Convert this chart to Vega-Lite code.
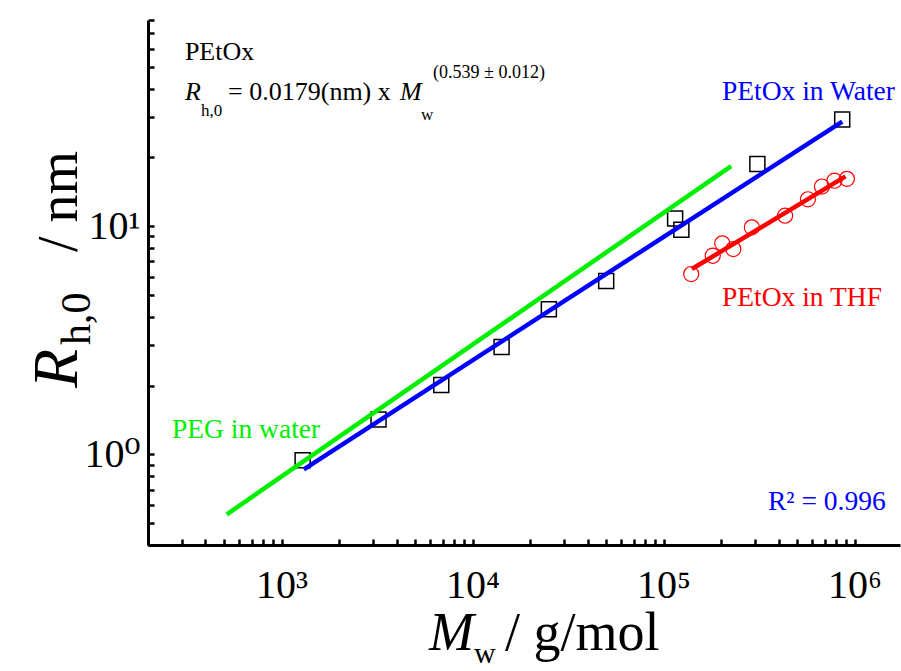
{
  "$schema": "https://vega.github.io/schema/vega-lite/v6.json",
  "width": 752,
  "height": 525,
  "autosize": "none",
  "padding": {"left": 148, "top": 20, "right": 1, "bottom": 126},
  "background": "white",
  "config": {"view": {"stroke": null}, "font": "Liberation Serif, Times New Roman, DejaVu Serif, serif"},
  "datasets": {
    "water": [
      {"Mw": 1290, "Rh": 0.94},
      {"Mw": 3220, "Rh": 1.42},
      {"Mw": 6860, "Rh": 2.01},
      {"Mw": 14200, "Rh": 2.95},
      {"Mw": 25100, "Rh": 4.32},
      {"Mw": 50100, "Rh": 5.75},
      {"Mw": 115000, "Rh": 10.8},
      {"Mw": 124000, "Rh": 9.63},
      {"Mw": 310000, "Rh": 18.7},
      {"Mw": 862000, "Rh": 29.3}
    ],
    "thf": [
      {"Mw": 139600, "Rh": 6.16},
      {"Mw": 181000, "Rh": 7.41},
      {"Mw": 203000, "Rh": 8.4},
      {"Mw": 232000, "Rh": 7.93},
      {"Mw": 290000, "Rh": 9.87},
      {"Mw": 433000, "Rh": 11.1},
      {"Mw": 570000, "Rh": 13.1},
      {"Mw": 675000, "Rh": 14.9},
      {"Mw": 785000, "Rh": 15.8},
      {"Mw": 912000, "Rh": 16.1}
    ],
    "fits": [
      {"series": "PEG in water", "Mw": 517, "Rh": 0.545},
      {"series": "PEG in water", "Mw": 226000, "Rh": 18.3},
      {"series": "PEtOx in Water", "Mw": 1309, "Rh": 0.859},
      {"series": "PEtOx in Water", "Mw": 862000, "Rh": 28.7},
      {"series": "PEtOx in THF", "Mw": 140700, "Rh": 6.48},
      {"series": "PEtOx in THF", "Mw": 897000, "Rh": 16.5}
    ],
    "ann": [
      {"role": "series", "text": "PEtOx in Water", "Mw": 202400, "Rh": 35.7, "series": "PEtOx in Water"},
      {"role": "series", "text": "PEtOx in THF", "Mw": 202400, "Rh": 4.46, "series": "PEtOx in THF"},
      {"role": "series", "text": "PEG in water", "Mw": 267, "Rh": 1.178, "series": "PEG in water"},
      {"role": "series", "text": "R² = 0.996", "Mw": 352400, "Rh": 0.57, "series": "PEtOx in Water"},
      {"role": "note", "text": "PEtOx", "Mw": 312, "Rh": 53.4},
      {"role": "note", "text": "= 0.0179(nm) x", "Mw": 525, "Rh": 35.7},
      {"role": "noteItalic", "text": "R", "Mw": 312, "Rh": 35.7},
      {"role": "noteItalic", "text": "M", "Mw": 4172, "Rh": 35.7},
      {"role": "noteSmall", "text": "h,0", "Mw": 379, "Rh": 30.4},
      {"role": "noteSmall", "text": "w", "Mw": 5376, "Rh": 29.2},
      {"role": "noteSup", "text": "(0.539 ± 0.012)", "Mw": 6212, "Rh": 44.5},
      {"role": "xItalic", "text": "M", "Mw": 5920, "Rh": 0.1387},
      {"role": "xSub", "text": "w", "Mw": 10180, "Rh": 0.1217},
      {"role": "xMain", "text": "/ g/mol", "Mw": 14790, "Rh": 0.1387},
      {"role": "yItalic", "text": "R", "Mw": 85, "Rh": 1.952},
      {"role": "ySub", "text": "h,0", "Mw": 99.4, "Rh": 3.01},
      {"role": "yMain", "text": "/ nm", "Mw": 85, "Rh": 7.7}
    ]
  },
  "layer": [
    {
      "data": {"name": "water"},
      "mark": {"type": "point", "shape": "square", "filled": false, "color": "black", "size": 225, "strokeWidth": 1.5, "opacity": 1},
      "encoding": {
        "x": {
          "field": "Mw", "type": "quantitative",
          "scale": {"type": "log", "domain": [200, 1730000], "nice": false},
          "axis": {
            "title": null,
            "grid": false,
            "ticks": true,
            "values": [200, 300, 400, 500, 600, 700, 800, 900, 1000, 2000, 3000, 4000, 5000, 6000, 7000, 8000, 9000, 10000, 20000, 30000, 40000, 50000, 60000, 70000, 80000, 90000, 100000, 200000, 300000, 400000, 500000, 600000, 700000, 800000, 900000, 1000000],
            "labelExpr": "datum.value == 1000 ? '10³' : datum.value == 10000 ? '10⁴' : datum.value == 100000 ? '10⁵' : datum.value == 1000000 ? '10⁶' : ''",
            "labelOverlap": false,
            "labelFontSize": 40,
            "labelColor": "black",
            "labelPadding": 26,
            "domainColor": "black",
            "domainWidth": 3,
            "tickColor": "black",
            "tickWidth": 2.5,
            "tickSize": -6
          }
        },
        "y": {
          "field": "Rh", "type": "quantitative",
          "scale": {"type": "log", "domain": [0.4, 80], "nice": false},
          "axis": {
            "title": null,
            "grid": false,
            "ticks": true,
            "values": [0.4, 0.5, 0.6, 0.7, 0.8, 0.9, 1, 2, 3, 4, 5, 6, 7, 8, 9, 10, 20, 30, 40, 50, 60, 70, 80],
            "labelExpr": "datum.value == 1 ? '10⁰' : datum.value == 10 ? '10¹' : ''",
            "labelOverlap": false,
            "labelFontSize": 40,
            "labelColor": "black",
            "labelPadding": 14,
            "domainColor": "black",
            "domainWidth": 3,
            "tickColor": "black",
            "tickWidth": 2.5,
            "tickSize": -6
          }
        }
      }
    },
    {
      "data": {"name": "thf"},
      "mark": {"type": "point", "shape": "circle", "filled": false, "color": "#ff0000", "size": 227, "strokeWidth": 1.2, "opacity": 1},
      "encoding": {
        "x": {"field": "Mw", "type": "quantitative"},
        "y": {"field": "Rh", "type": "quantitative"}
      }
    },
    {
      "data": {"name": "fits"},
      "mark": {"type": "line", "strokeWidth": 4.5},
      "encoding": {
        "x": {"field": "Mw", "type": "quantitative"},
        "y": {"field": "Rh", "type": "quantitative"},
        "color": {
          "field": "series", "type": "nominal",
          "scale": {"domain": ["PEtOx in Water", "PEtOx in THF", "PEG in water"], "range": ["#0000ff", "#ff0000", "#00ee00"]},
          "legend": null
        }
      }
    },
    {
      "mark": {"type": "rule", "color": "black", "strokeWidth": 3},
      "encoding": {"y": {"datum": 80, "type": "quantitative"}}
    },
    {
      "data": {"name": "ann"},
      "transform": [{"filter": "datum.role == 'series'"}],
      "mark": {"type": "text", "align": "left", "baseline": "alphabetic", "fontSize": 27.5},
      "encoding": {
        "x": {"field": "Mw", "type": "quantitative"},
        "y": {"field": "Rh", "type": "quantitative"},
        "text": {"field": "text"},
        "color": {"field": "series", "type": "nominal", "legend": null}
      }
    },
    {
      "data": {"name": "ann"},
      "transform": [{"filter": "datum.role == 'note'"}],
      "mark": {"type": "text", "align": "left", "baseline": "alphabetic", "fontSize": 26, "color": "black"},
      "encoding": {
        "x": {"field": "Mw", "type": "quantitative"},
        "y": {"field": "Rh", "type": "quantitative"},
        "text": {"field": "text"}
      }
    },
    {
      "data": {"name": "ann"},
      "transform": [{"filter": "datum.role == 'noteItalic'"}],
      "mark": {"type": "text", "align": "left", "baseline": "alphabetic", "fontStyle": "italic", "fontSize": 26, "color": "black"},
      "encoding": {
        "x": {"field": "Mw", "type": "quantitative"},
        "y": {"field": "Rh", "type": "quantitative"},
        "text": {"field": "text"}
      }
    },
    {
      "data": {"name": "ann"},
      "transform": [{"filter": "datum.role == 'noteSmall'"}],
      "mark": {"type": "text", "align": "left", "baseline": "alphabetic", "fontSize": 17, "color": "black"},
      "encoding": {
        "x": {"field": "Mw", "type": "quantitative"},
        "y": {"field": "Rh", "type": "quantitative"},
        "text": {"field": "text"}
      }
    },
    {
      "data": {"name": "ann"},
      "transform": [{"filter": "datum.role == 'noteSup'"}],
      "mark": {"type": "text", "align": "left", "baseline": "alphabetic", "fontSize": 18, "color": "black"},
      "encoding": {
        "x": {"field": "Mw", "type": "quantitative"},
        "y": {"field": "Rh", "type": "quantitative"},
        "text": {"field": "text"}
      }
    },
    {
      "data": {"name": "ann"},
      "transform": [{"filter": "datum.role == 'xItalic'"}],
      "mark": {"type": "text", "align": "left", "baseline": "alphabetic", "fontStyle": "italic", "fontSize": 54, "color": "black"},
      "encoding": {
        "x": {"field": "Mw", "type": "quantitative"},
        "y": {"field": "Rh", "type": "quantitative"},
        "text": {"field": "text"}
      }
    },
    {
      "data": {"name": "ann"},
      "transform": [{"filter": "datum.role == 'xSub'"}],
      "mark": {"type": "text", "align": "left", "baseline": "alphabetic", "fontSize": 30, "color": "black"},
      "encoding": {
        "x": {"field": "Mw", "type": "quantitative"},
        "y": {"field": "Rh", "type": "quantitative"},
        "text": {"field": "text"}
      }
    },
    {
      "data": {"name": "ann"},
      "transform": [{"filter": "datum.role == 'xMain'"}],
      "mark": {"type": "text", "align": "left", "baseline": "alphabetic", "fontSize": 54, "color": "black"},
      "encoding": {
        "x": {"field": "Mw", "type": "quantitative"},
        "y": {"field": "Rh", "type": "quantitative"},
        "text": {"field": "text"}
      }
    },
    {
      "data": {"name": "ann"},
      "transform": [{"filter": "datum.role == 'yItalic'"}],
      "mark": {"type": "text", "align": "left", "baseline": "alphabetic", "angle": 270, "fontStyle": "italic", "fontSize": 64, "color": "black"},
      "encoding": {
        "x": {"field": "Mw", "type": "quantitative"},
        "y": {"field": "Rh", "type": "quantitative"},
        "text": {"field": "text"}
      }
    },
    {
      "data": {"name": "ann"},
      "transform": [{"filter": "datum.role == 'ySub'"}],
      "mark": {"type": "text", "align": "left", "baseline": "alphabetic", "angle": 270, "fontSize": 42, "color": "black"},
      "encoding": {
        "x": {"field": "Mw", "type": "quantitative"},
        "y": {"field": "Rh", "type": "quantitative"},
        "text": {"field": "text"}
      }
    },
    {
      "data": {"name": "ann"},
      "transform": [{"filter": "datum.role == 'yMain'"}],
      "mark": {"type": "text", "align": "left", "baseline": "alphabetic", "angle": 270, "fontSize": 56, "color": "black"},
      "encoding": {
        "x": {"field": "Mw", "type": "quantitative"},
        "y": {"field": "Rh", "type": "quantitative"},
        "text": {"field": "text"}
      }
    }
  ]
}
